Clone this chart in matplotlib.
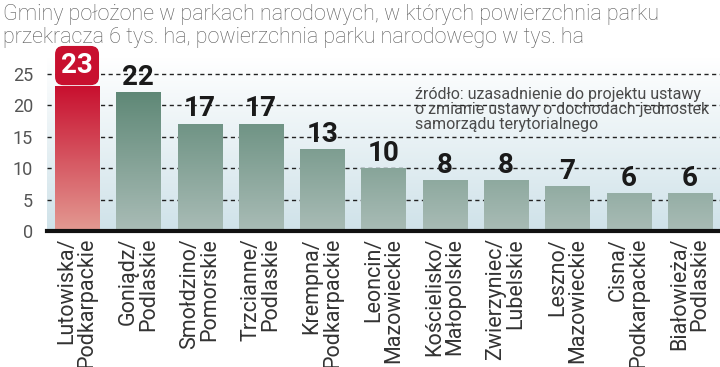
import numpy as np
import matplotlib.pyplot as plt
from matplotlib.colors import LinearSegmentedColormap

# data
gminy = ["Lutowiska/\nPodkarpackie", "Goniądz/\nPodlaskie", "Smołdzino/\nPomorskie",
         "Trzcianne/\nPodlaskie", "Krempna/\nPodkarpackie", "Leoncin/\nMazowieckie",
         "Kościelisko/\nMałopolskie", "Zwierzyniec/\nLubelskie", "Leszno/\nMazowieckie",
         "Cisna/\nPodkarpackie", "Białowieża/\nPodlaskie"]
powierzchnia = [23, 22, 17, 17, 13, 10, 8, 8, 7, 6, 6]
yticks = [0, 5, 10, 15, 20, 25]

title = ("Gminy położone w parkach narodowych, w których powierzchnia parku\n"
         "przekracza 6 tys. ha, powierzchnia parku narodowego w tys. ha")
source = ("źródło: uzasadnienie do projektu ustawy\n"
          "o zmianie ustawy o dochodach jednostek\n"
          "samorządu terytorialnego")

plt.rcParams['font.family'] = ['Roboto', 'DejaVu Sans']

fig = plt.figure(figsize=(7.2, 3.67), dpi=100)
ax = fig.add_axes([47 / 720, 1 - 231 / 367, 1 - 47 / 720, (231 - 58) / 367])
ymax = 27.5
ax.set_xlim(-0.49, 10.49)
ax.set_ylim(0, ymax)

# background gradient: white at top, light blue at bottom
bg = LinearSegmentedColormap.from_list("bg", ["#cfe2e9", "#ffffff"])
grad = np.linspace(0, 1, 256).reshape(-1, 1)
ax.imshow(grad, cmap=bg, origin="lower", aspect="auto",
          extent=[-0.49, 10.49, 0, ymax], zorder=0)

# grid
for t in yticks[1:]:
    ax.axhline(t, color="#222222", lw=1.0, ls=(0, (3, 2.5)), zorder=1)

green = LinearSegmentedColormap.from_list("g", ["#a9bcb6", "#5c8674"])
red = LinearSegmentedColormap.from_list("r", ["#e39a92", "#c8102f"])
w = 0.72
for i, v in enumerate(powierzchnia):
    if i == 0:
        cmap = red
        g = np.linspace(0, 1, 128).reshape(-1, 1)
    else:
        cmap = green
        g = np.linspace(0, v / 23.0, 128).reshape(-1, 1)
    ax.imshow(g, cmap=cmap, vmin=0, vmax=1, origin="lower", aspect="auto",
              extent=[i - w / 2, i + w / 2, 0, v], zorder=2)
    if i == 0:
        ax.text(i, v + 3.3, str(v), ha="center", va="center", fontsize=20,
                fontweight="bold", color="white", zorder=5,
                bbox=dict(boxstyle="round,pad=0.22,rounding_size=0.3",
                          fc="#c8102f", ec="none", lw=0))
    else:
        ax.text(i, v + 0.25, str(v), ha="center", va="bottom", fontsize=20,
                fontweight="bold", color="#1a1a1a", zorder=5)

ax.axhline(0, color="#111111", lw=3, zorder=4, clip_on=False)

for s in ax.spines.values():
    s.set_visible(False)
ax.set_yticks(yticks)
ax.set_yticklabels([str(t) for t in yticks], fontsize=13, color="#555555")
ax.tick_params(axis="y", length=0, pad=10)
ax.set_xticks(range(len(gminy)))
ax.set_xticklabels(gminy, rotation=90, fontsize=15.5, color="#333333",
                   ha="center", va="top", multialignment="right",
                   linespacing=0.95)
ax.tick_params(axis="x", length=0, pad=5)

fig.text(0.004, 0.99, title, ha="left", va="top", fontsize=15.5,
         color="#5a5a5a", fontweight="light", linespacing=1.12)
ax.text(415 / 720, 1 - 87 / 367, source, transform=fig.transFigure,
        ha="left", va="top", fontsize=11.5, color="#4a4a4a",
        linespacing=0.98, zorder=6)

fig.savefig("out.png", dpi=100)
